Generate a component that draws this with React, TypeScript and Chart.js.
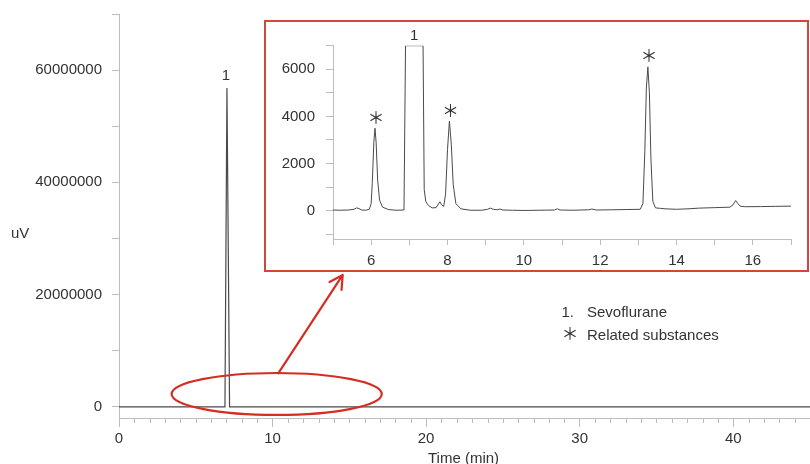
import React, { useEffect, useRef } from 'react';
import { Chart, registerables } from 'chart.js';

Chart.register(...registerables);

const FONT = '"Liberation Sans", Arial, Helvetica, sans-serif';
const STAR_FONT = '"Noto Sans CJK JP", "DejaVu Sans", sans-serif';

// ---- Main chromatogram ----
const MAIN_TIME = [0, 6.9, 7.03, 7.2, 45];
const MAIN_UV = [0, 0, 56800000, 0, 0];
const MAIN_X_TICKS = [0, 1, 2, 3, 4, 5, 6, 7, 8, 9, 10, 11, 12, 13, 14, 15, 16, 17, 18, 19, 20, 21, 22, 23, 24, 25, 26, 27, 28, 29, 30, 31, 32, 33, 34, 35, 36, 37, 38, 39, 40, 41, 42, 43, 44];
const MAIN_Y_TICKS = [0, 10000000, 20000000, 30000000, 40000000, 50000000, 60000000, 70000000];
const MAIN_LABEL_TIMES = [7.03];
const MAIN_LABEL_VALUES = [56800000];
const MAIN_LABEL_TEXTS = ['1'];

// zoom annotation (data units of main chart)
const ELLIPSE_CENTER = [10.27, 2280000];
const ELLIPSE_RADII = [6.84, 3740000];
const ARROW_FROM = [10.37, 5970000];
const ARROW_TO = [14.57, 23490000];

// ---- Inset (5-17 min) ----
const INSET_TIME = [5.0, 5.2, 5.4, 5.55, 5.62, 5.68, 5.75, 5.85, 5.95, 6.0, 6.03, 6.07, 6.1, 6.13, 6.17, 6.22, 6.3, 6.45, 6.65, 6.86, 6.9, 7.36, 7.39, 7.43, 7.5, 7.6, 7.7, 7.76, 7.8, 7.84, 7.9, 7.95, 8.0, 8.05, 8.1, 8.15, 8.22, 8.35, 8.6, 8.9, 9.05, 9.12, 9.2, 9.3, 9.37, 9.45, 9.7, 10.0, 10.4, 10.8, 10.88, 10.95, 11.3, 11.7, 11.78, 11.9, 12.3, 12.7, 13.05, 13.12, 13.17, 13.21, 13.25, 13.29, 13.33, 13.38, 13.45, 13.58, 13.7, 14.0, 14.3, 14.6, 15.0, 15.4, 15.48, 15.55, 15.6, 15.67, 15.8, 16.2, 16.6, 17.0];
const INSET_UV = [30, 20, 30, 60, 120, 90, 30, 20, 60, 300, 1200, 2900, 3500, 2900, 1300, 450, 150, 50, 20, 30, 7000, 7000, 900, 400, 220, 120, 130, 280, 380, 260, 180, 700, 2600, 3800, 2800, 1100, 300, 80, 20, 20, 60, 110, 60, 40, 70, 30, 20, 10, 20, 30, 80, 30, 20, 40, 70, 30, 40, 50, 60, 300, 2500, 5200, 6100, 5000, 2200, 400, 120, 100, 80, 60, 80, 110, 130, 150, 250, 430, 320, 190, 170, 175, 185, 195];
const INSET_X_TICKS = [5, 6, 7, 8, 9, 10, 11, 12, 13, 14, 15, 16, 17];
const INSET_Y_TICKS = [-1000, 0, 1000, 2000, 3000, 4000, 5000, 6000, 7000];
const INSET_LABEL_TIMES = [6.1, 7.13, 8.05, 13.25];
const INSET_LABEL_VALUES = [3500, 7000, 3800, 6100];
const INSET_LABEL_TEXTS = ['＊', '1', '＊', '＊'];

// ---- Legend ----
const LEGEND_SYMBOLS = ['1.', '＊'];
const LEGEND_TEXTS = ['Sevoflurane', 'Related substances'];

const AXIS_COLOR = '#bdbdbd';
const TEXT_COLOR = '#333333';
const RED = '#d42e22';

function drawStar(ctx: CanvasRenderingContext2D, cx: number, cy: number, text: string) {
  ctx.save();
  ctx.font = `17px ${STAR_FONT}`;
  ctx.textAlign = 'center';
  ctx.textBaseline = 'middle';
  ctx.fillStyle = TEXT_COLOR;
  ctx.fillText(text, cx, cy);
  ctx.restore();
}

function zeroPad(s: any) {
  s.paddingTop = 0;
  s.paddingBottom = 0;
  s.paddingLeft = 0;
  s.paddingRight = 0;
}

const mainOverlay = {
  id: 'mainOverlay',
  afterDraw(chart: any) {
    const { ctx, chartArea } = chart;
    const x = chart.scales.x;
    const y = chart.scales.y;
    ctx.save();
    // minor x ticks
    ctx.strokeStyle = AXIS_COLOR;
    ctx.lineWidth = 1;
    ctx.beginPath();
    MAIN_X_TICKS.forEach((v) => {
      if (v % 10 !== 0) {
        const px = Math.round(x.getPixelForValue(v)) + 0.5;
        ctx.moveTo(px, chartArea.bottom);
        ctx.lineTo(px, chartArea.bottom + 5);
      }
    });
    ctx.stroke();

    ctx.fillStyle = TEXT_COLOR;
    ctx.font = `15px ${FONT}`;
    ctx.textBaseline = 'alphabetic';
    ctx.textAlign = 'center';
    MAIN_LABEL_TIMES.forEach((t, i) => {
      ctx.fillText(MAIN_LABEL_TEXTS[i], x.getPixelForValue(t) - 1, y.getPixelForValue(MAIN_LABEL_VALUES[i]) - 8);
    });
    ctx.textAlign = 'left';
    ctx.fillText('uV', 11, 238);
    ctx.textAlign = 'center';
    ctx.fillText('Time (min)', (chartArea.left + chartArea.right) / 2 - 1, 463);

    // legend
    ctx.textAlign = 'left';
    ctx.fillText(LEGEND_SYMBOLS[0], 561.5, 317);
    ctx.fillText(LEGEND_TEXTS[0], 587, 317);
    ctx.fillText(LEGEND_TEXTS[1], 587, 340);
    drawStar(ctx, 570, 334, LEGEND_SYMBOLS[1]);

    // ellipse
    ctx.strokeStyle = RED;
    ctx.lineWidth = 2.2;
    const cx = x.getPixelForValue(ELLIPSE_CENTER[0]);
    const cy = y.getPixelForValue(ELLIPSE_CENTER[1]);
    const rx = Math.abs(x.getPixelForValue(ELLIPSE_CENTER[0] + ELLIPSE_RADII[0]) - cx);
    const ry = Math.abs(y.getPixelForValue(ELLIPSE_CENTER[1] + ELLIPSE_RADII[1]) - cy);
    ctx.beginPath();
    ctx.ellipse(cx, cy, rx, ry, 0, 0, Math.PI * 2);
    ctx.stroke();

    // arrow
    const ax = x.getPixelForValue(ARROW_FROM[0]);
    const ay = y.getPixelForValue(ARROW_FROM[1]);
    const bx = x.getPixelForValue(ARROW_TO[0]);
    const by = y.getPixelForValue(ARROW_TO[1]);
    const ang = Math.atan2(by - ay, bx - ax);
    const head = 15;
    const spread = 0.5;
    ctx.lineCap = 'round';
    ctx.lineJoin = 'round';
    ctx.beginPath();
    ctx.moveTo(ax, ay);
    ctx.lineTo(bx, by);
    ctx.moveTo(bx - head * Math.cos(ang - spread), by - head * Math.sin(ang - spread));
    ctx.lineTo(bx, by);
    ctx.lineTo(bx - head * Math.cos(ang + spread), by - head * Math.sin(ang + spread));
    ctx.stroke();
    ctx.restore();
  },
};

const insetOverlay = {
  id: 'insetOverlay',
  afterDraw(chart: any) {
    const { ctx } = chart;
    const x = chart.scales.x;
    const y = chart.scales.y;
    ctx.save();
    INSET_LABEL_TIMES.forEach((t, i) => {
      const px = x.getPixelForValue(t);
      const py = y.getPixelForValue(INSET_LABEL_VALUES[i]);
      const txt = INSET_LABEL_TEXTS[i];
      if (txt === '1') {
        ctx.fillStyle = TEXT_COLOR;
        ctx.font = `15px ${FONT}`;
        ctx.textAlign = 'center';
        ctx.textBaseline = 'alphabetic';
        ctx.fillText(txt, px, py - 6);
      } else {
        drawStar(ctx, px + 1, py - 11, txt);
      }
    });
    ctx.restore();
  },
};

export default function App() {
  const mainRef = useRef<HTMLCanvasElement>(null);
  const insetRef = useRef<HTMLCanvasElement>(null);

  useEffect(() => {
    const tickFont = { family: FONT, size: 15 };
    const main = new Chart(mainRef.current as HTMLCanvasElement, {
      type: 'scatter',
      data: {
        datasets: [
          {
            data: MAIN_TIME.map((t, i) => ({ x: t, y: MAIN_UV[i] })),
            showLine: true,
            borderColor: '#4a4a4a',
            borderWidth: 1.2,
            pointRadius: 0,
            tension: 0,
          },
        ],
      },
      options: {
        responsive: false,
        animation: false,
        devicePixelRatio: 1,
        events: [],
        layout: { padding: { top: 14, left: 0, right: 0, bottom: 0 } },
        plugins: { legend: { display: false }, tooltip: { enabled: false } },
        scales: {
          x: {
            type: 'linear',
            min: 0,
            max: 45,
            afterBuildTicks: (s: any) => {
              s.ticks = MAIN_X_TICKS.map((v) => ({ value: v }));
            },
            afterFit: (s: any) => {
              s.height = 46;
              zeroPad(s);
            },
            border: { color: AXIS_COLOR, width: 1 },
            grid: {
              drawOnChartArea: false,
              drawTicks: true,
              tickLength: 9,
              tickColor: (c: any) => (c.tick && c.tick.value % 10 === 0 ? AXIS_COLOR : 'rgba(0,0,0,0)'),
            },
            ticks: {
              autoSkip: false,
              maxRotation: 0,
              padding: 2.5,
              color: TEXT_COLOR,
              font: tickFont,
              callback: (v: any) => (Number(v) % 10 === 0 ? String(v) : ''),
            },
          },
          y: {
            type: 'linear',
            min: -2000000,
            max: 70000000,
            afterBuildTicks: (s: any) => {
              s.ticks = MAIN_Y_TICKS.map((v) => ({ value: v }));
            },
            afterFit: (s: any) => {
              s.width = 119;
              zeroPad(s);
            },
            border: { color: AXIS_COLOR, width: 1 },
            grid: { drawOnChartArea: false, drawTicks: true, tickLength: 7, tickColor: AXIS_COLOR },
            ticks: {
              autoSkip: false,
              padding: 10,
              color: TEXT_COLOR,
              font: tickFont,
              callback: (v: any) => (Number(v) % 20000000 === 0 ? String(v) : ''),
            },
          },
        },
      } as any,
      plugins: [mainOverlay],
    });

    const inset = new Chart(insetRef.current as HTMLCanvasElement, {
      type: 'scatter',
      data: {
        datasets: [
          {
            data: INSET_TIME.map((t, i) => ({ x: t, y: INSET_UV[i] })),
            showLine: true,
            borderColor: '#4a4a4a',
            borderWidth: 1,
            pointRadius: 0,
            tension: 0,
          },
        ],
      },
      options: {
        responsive: false,
        animation: false,
        devicePixelRatio: 1,
        events: [],
        layout: { padding: { top: 23.7, left: 0, right: 16, bottom: 0 } },
        plugins: { legend: { display: false }, tooltip: { enabled: false } },
        scales: {
          x: {
            type: 'linear',
            min: 5,
            max: 17,
            afterBuildTicks: (s: any) => {
              s.ticks = INSET_X_TICKS.map((v) => ({ value: v }));
            },
            afterFit: (s: any) => {
              s.height = 31;
              zeroPad(s);
            },
            border: { color: AXIS_COLOR, width: 1 },
            grid: { drawOnChartArea: false, drawTicks: true, tickLength: 6, tickColor: AXIS_COLOR },
            ticks: {
              autoSkip: false,
              maxRotation: 0,
              padding: 7,
              color: TEXT_COLOR,
              font: tickFont,
              callback: (v: any) => (Number(v) % 2 === 0 ? String(v) : ''),
            },
          },
          y: {
            type: 'linear',
            min: -1200,
            max: 7000,
            afterBuildTicks: (s: any) => {
              s.ticks = INSET_Y_TICKS.map((v) => ({ value: v }));
            },
            afterFit: (s: any) => {
              s.width = 67;
              zeroPad(s);
            },
            border: { color: AXIS_COLOR, width: 1 },
            grid: { drawOnChartArea: false, drawTicks: true, tickLength: 7, tickColor: AXIS_COLOR },
            ticks: {
              autoSkip: false,
              padding: 11,
              color: TEXT_COLOR,
              font: tickFont,
              callback: (v: any) => (Number(v) % 2000 === 0 ? String(v) : ''),
            },
          },
        },
      } as any,
      plugins: [insetOverlay],
    });

    return () => {
      main.destroy();
      inset.destroy();
    };
  }, []);

  return (
    <div style={{ position: 'fixed', left: 0, top: 0, width: 810, height: 464, background: '#ffffff', overflow: 'hidden' }}>
      <canvas ref={mainRef} width={810} height={464} style={{ position: 'absolute', left: 0, top: 0 }} />
      <div
        style={{
          position: 'absolute',
          left: 264,
          top: 20,
          width: 545,
          height: 252,
          border: '2px solid #d5463a',
          boxSizing: 'border-box',
          background: '#ffffff',
        }}
      >
        <canvas ref={insetRef} width={541} height={248} style={{ display: 'block' }} />
      </div>
    </div>
  );
}
